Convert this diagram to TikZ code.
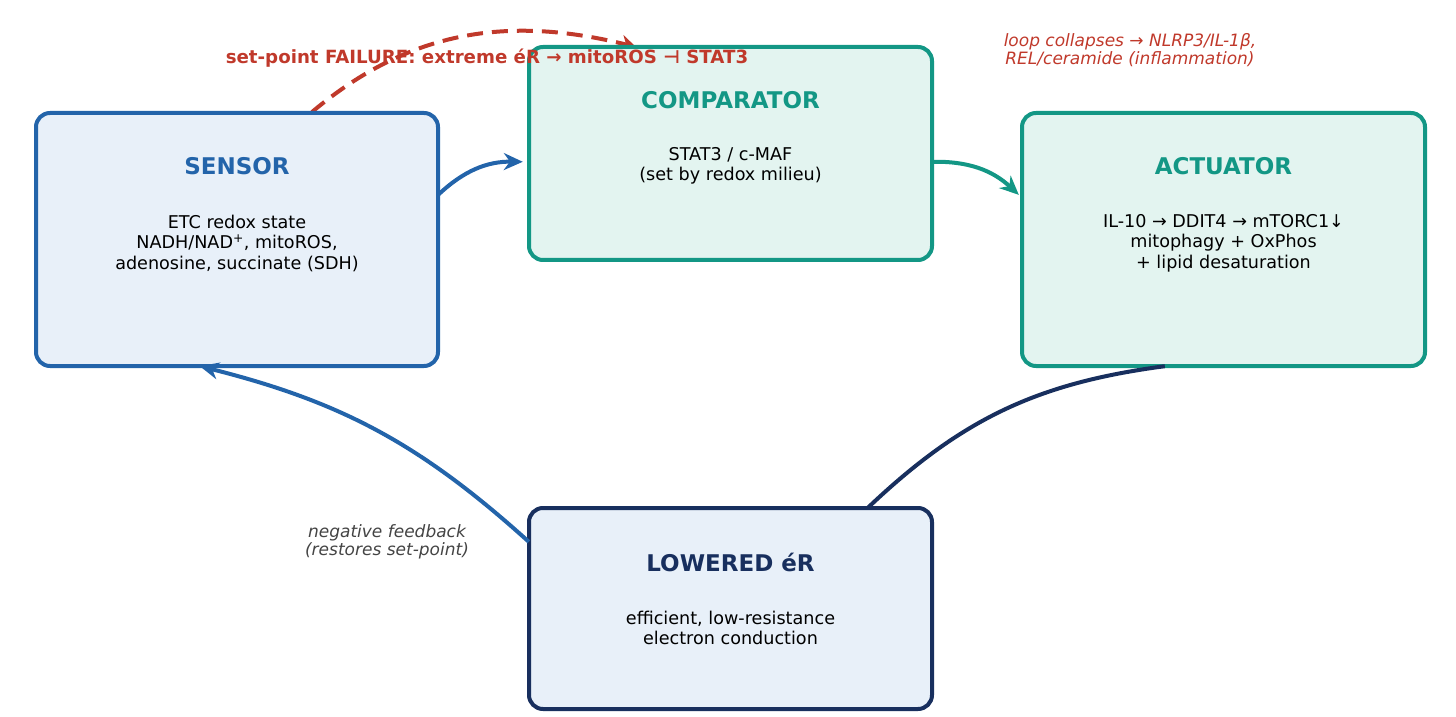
\documentclass[tikz,border=0pt]{standalone}
\usepackage{fontspec}
\setmainfont{DejaVu Sans}
\usetikzlibrary{arrows.meta}
\definecolor{sblue}{HTML}{2364AA}
\definecolor{sfill}{HTML}{E8F0F9}
\definecolor{teal}{HTML}{139785}
\definecolor{tfill}{HTML}{E3F4F0}
\definecolor{navy}{HTML}{182F5E}
\definecolor{fred}{HTML}{C0392B}
\definecolor{fgray}{HTML}{444444}
\begin{document}
\begin{tikzpicture}[x=1pt,y=1pt,
 box/.style={rounded corners=14pt,line width=4pt,inner sep=0pt},
 ttl/.style={font=\bfseries\fontsize{23}{27}\selectfont},
 body/.style={font=\fontsize{17.6}{20.5}\selectfont,align=center,text=black},
 arr/.style={line width=4pt,-{Stealth[length=19pt,width=17pt]}},
 lbl/.style={font=\itshape\fontsize{17}{18}\selectfont,align=center}]
\useasboundingbox (0,0) rectangle (1456,716);
% red dashed (behind)
\coordinate (rs) at (312,604);
\coordinate (re) at (636,669);
\draw[fred,line width=4pt,dash pattern=on 16pt off 9pt,-{Stealth[length=15pt,width=17pt]}] (rs) to[out=40,in=166] (re);
% boxes
\draw[box,draw=sblue,fill=sfill] (36,350) rectangle (438,603);
\node[minimum width=402pt,minimum height=253pt,inner sep=0pt] (sensor) at (237,476.5) {};
\draw[box,draw=teal,fill=tfill] (529,456) rectangle (932,669);
\node[minimum width=403pt,minimum height=213pt,inner sep=0pt] (comp) at (730.5,562.5) {};
\draw[box,draw=teal,fill=tfill] (1022,350) rectangle (1425,603);
\node[minimum width=403pt,minimum height=253pt,inner sep=0pt] (act) at (1223.5,476.5) {};
\draw[box,draw=navy,fill=sfill] (529,7) rectangle (932,208);
\node[minimum width=403pt,minimum height=201pt,inner sep=0pt] (low) at (730.5,107.5) {};
% texts
\node[ttl,text=sblue] (st) at (237,550) {SENSOR};
\node[body] (sb) at (237,473) {ETC redox state\\NADH/NAD\textsuperscript{+}, mitoROS,\\adenosine, succinate (SDH)};
\node[ttl,text=teal] (ct) at (730.5,616) {COMPARATOR};
\node[body] (cb) at (730.5,550) {STAT3 / c-MAF\\(set by redox milieu)};
\node[ttl,text=teal] (at) at (1223.5,550) {ACTUATOR};
\node[body] (ab) at (1223.5,473) {IL-10 → DDIT4 → mTORC1↓\\mitophagy + OxPhos\\+ lipid desaturation};
\node[ttl,text=navy] (lt) at (730.5,154) {LOWERED éR};
\node[body] (lb) at (730.5,88) {efficient, low-resistance\\electron conduction};
% connectors
\draw[arr,sblue] ([yshift=-82pt]sensor.north east) to[bend left=22] ([xshift=-6pt,yshift=-115pt]comp.north west);
\draw[arr,teal] ([yshift=-115pt]comp.north east) to[bend left=22] ([xshift=-3pt,yshift=-82pt]act.north west);
\draw[line width=4pt,navy] ([xshift=143pt]act.south west) to[bend right=18] ([xshift=339pt]low.north west);
\draw[arr,sblue] ([yshift=-34pt]low.north west) to[bend right=14] ([xshift=164pt]sensor.south west);
% labels
\node[font=\bfseries\fontsize{18.2}{22}\selectfont,text=fred] (fail) at (487,658) {set-point FAILURE: extreme éR → mitoROS ⊣ STAT3};
\node[lbl,text=fred] (coll) at (1130,666) {loop collapses → NLRP3/IL-1β,\\REL/ceramide (inflammation)};
\node[lbl,text=fgray] (neg) at (387,174) {negative feedback\\(restores set-point)};
\end{tikzpicture}
\end{document}
